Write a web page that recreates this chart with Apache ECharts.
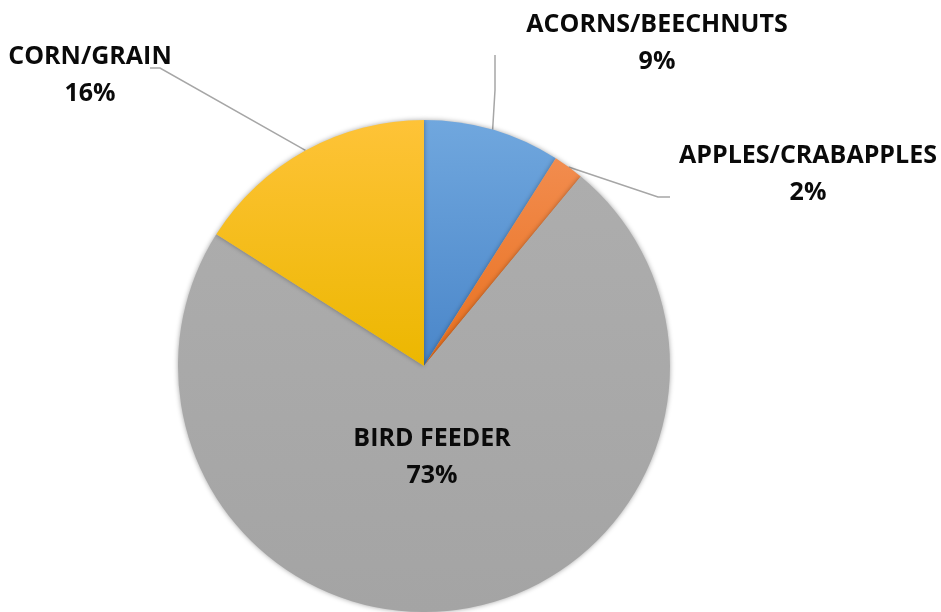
<!DOCTYPE html>
<html>
<head>
<meta charset="utf-8">
<script src="https://cdn.jsdelivr.net/npm/echarts@6/dist/echarts.min.js"></script>
<style>
  html, body { margin: 0; padding: 0; background: #fff; }
  #chart { width: 941px; height: 612px; }
</style>
</head>
<body>
<div id="chart"></div>
<script>
// data
var categories = ['ACORNS/BEECHNUTS', 'APPLES/CRABAPPLES', 'BIRD FEEDER', 'CORN/GRAIN'];
var shares = [9, 2, 73, 16];

// slice colours (top, bottom of gradient)
var topColors = ['#70a7de', '#f28c4e', '#adadad', '#fec338'];
var bottomColors = ['#4a86c9', '#e8701e', '#a4a4a4', '#ecb700'];

// where the label boxes sit (centre of the two lines)
var labelPos = [[657, 43], [808, 174], [432, 457], [90, 75]];
// leader line: elbow point and end point (null = no leader)
var leaderPts = [
    [[495, 90], [495, 55]],
    [[658, 197], [670, 197]],
    null,
    [[160, 68], [150, 68]]
];

var chart = echarts.init(document.getElementById('chart'));

var seriesData = [];
for (var i = 0; i < categories.length; i++) {
    seriesData.push({
        name: categories[i],
        value: shares[i],
        itemStyle: {
            color: {
                type: 'linear', x: 0, y: 0, x2: 0, y2: 1,
                colorStops: [
                    { offset: 0, color: topColors[i] },
                    { offset: 1, color: bottomColors[i] }
                ]
            }
        },
        labelLine: { show: leaderPts[i] !== null }
    });
}

var option = {
    animation: false,
    series: [{
        type: 'pie',
        center: [424, 366],
        radius: 246,
        startAngle: 90,
        clockwise: true,
        avoidLabelOverlap: false,
        itemStyle: {
            borderWidth: 0,
            shadowBlur: 5,
            shadowColor: 'rgba(0,0,0,0.35)'
        },
        label: {
            show: true,
            position: 'outside',
            formatter: '{b}\n{c}%',
            fontFamily: 'Open Sans',
            fontWeight: 'bold',
            fontSize: 25,
            lineHeight: 37,
            color: '#0a0a0a',
            align: 'center'
        },
        labelLine: {
            show: true,
            length: 10,
            length2: 10,
            lineStyle: { color: '#a6a6a6', width: 1.5 }
        },
        labelLayout: function (params) {
            var i = params.dataIndex;
            var p = labelPos[i];
            var res = { x: p[0], y: p[1], align: 'center', verticalAlign: 'middle' };
            if (leaderPts[i] && params.labelLinePoints) {
                res.labelLinePoints = [params.labelLinePoints[0], leaderPts[i][0], leaderPts[i][1]];
            }
            return res;
        },
        data: seriesData
    }]
};

chart.setOption(option);
</script>
</body>
</html>
